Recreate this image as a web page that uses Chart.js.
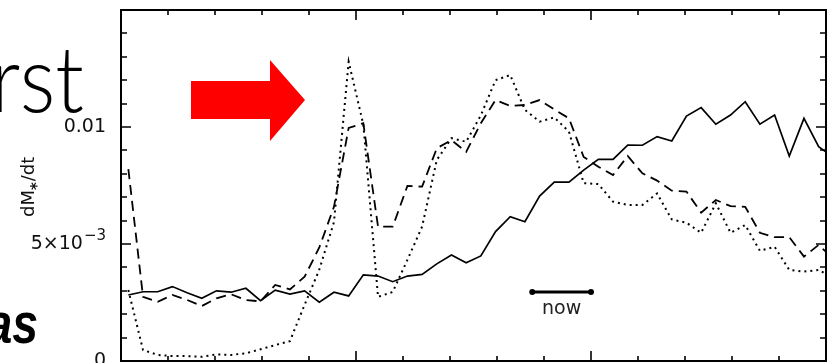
<!DOCTYPE html>
<html>
<head>
<meta charset="utf-8">
<script src="https://cdn.jsdelivr.net/npm/chart.js@4.4.0/dist/chart.umd.min.js"></script>
<style>
  html, body { margin: 0; padding: 0; background: #fff; }
  #wrap { width: 832px; height: 363px; }
</style>
</head>
<body>
<div id="wrap"><canvas id="sfrChart" width="832" height="363"></canvas></div>
<script>
// star formation rate per bin, in units of 1e-3
const sfrSolid = [
    2.82, 2.96, 2.96, 3.18, 2.92, 2.68, 3.00, 2.94, 3.11, 2.58,
    3.03, 2.86, 3.00, 2.51, 2.94, 2.78, 3.68, 3.63, 3.39, 3.63,
    3.70, 4.15, 4.53, 4.20, 4.49, 5.53, 6.17, 5.95, 7.05, 7.64,
    7.64, 8.16, 8.62, 8.62, 9.23, 9.22, 9.59, 9.40, 10.47, 10.83,
    10.12, 10.51, 11.08, 10.12, 10.51, 8.76, 10.37, 9.16, 8.70
];
const sfrDashed = [
    8.20, 2.74, 2.53, 2.82, 2.61, 2.35, 2.68, 2.85, 2.60, 2.55,
    3.25, 3.06, 3.60, 4.85, 6.59, 9.96, 10.16, 5.74, 5.74, 7.48,
    7.45, 9.09, 9.44, 8.94, 10.16, 11.15, 10.90, 10.94, 11.15, 10.75,
    10.37, 8.72, 8.30, 7.95, 8.76, 8.02, 7.71, 7.28, 7.24, 6.34,
    6.88, 6.62, 6.59, 5.48, 5.29, 5.29, 4.46, 4.96, 4.37
];
const sfrDotted = [
    3.03, 0.47, 0.26, 0.21, 0.21, 0.18, 0.28, 0.26, 0.33, 0.50,
    0.68, 0.85, 2.40, 3.90, 5.94, 12.79, 10.10, 2.74, 2.95, 4.32,
    5.74, 8.59, 9.52, 9.37, 10.50, 12.00, 12.22, 10.73, 10.23, 10.41,
    9.80, 7.60, 7.56, 6.81, 6.67, 6.67, 7.16, 6.05, 5.91, 5.48,
    6.74, 5.48, 5.81, 4.71, 4.88, 3.89, 3.82, 3.89, 3.55
];

const xMax = 15;
const binWidth = xMax / 48;
const yMax = 15;

const yLabelValues = [0, 5, 10];
const yLabelMain = ['0', '5×10', '0.01'];
const yLabelSup = ['', '−3', ''];

// "now" bar, in axis units
const nowFrom = 8.75;
const nowTo = 10;
const nowLevel = 2.95;

function toPoints(values) {
    return values.map((v, i) => ({ x: (i + 0.5) * binWidth, y: v }));
}

const decorations = {
    id: 'decorations',
    beforeDraw(chart) {
        const { ctx, width, height } = chart;
        ctx.save();
        ctx.fillStyle = '#fff';
        ctx.fillRect(0, 0, width, height);
        ctx.restore();
    },
    afterDatasetsDraw(chart) {
        const { ctx, chartArea: a, scales: { x, y } } = chart;
        ctx.save();

        // inward ticks on all four sides
        ctx.strokeStyle = '#000';
        ctx.lineWidth = 1.6;
        ctx.beginPath();
        for (let t = 0; t <= xMax; t++) {
            const px = Math.round(x.getPixelForValue(t));
            const len = t % 5 === 0 ? 10 : 5;
            ctx.moveTo(px, a.top); ctx.lineTo(px, a.top + len);
            ctx.moveTo(px, a.bottom); ctx.lineTo(px, a.bottom - len);
        }
        for (let t = 0; t <= yMax; t++) {
            const py = Math.round(y.getPixelForValue(t));
            const len = t % 5 === 0 ? 10 : 6;
            ctx.moveTo(a.left, py); ctx.lineTo(a.left + len, py);
            ctx.moveTo(a.right, py); ctx.lineTo(a.right - len, py);
        }
        ctx.stroke();

        ctx.lineWidth = 2;
        ctx.strokeRect(a.left, a.top, a.right - a.left, a.bottom - a.top);

        // y tick labels
        ctx.fillStyle = '#111';
        ctx.textBaseline = 'middle';
        yLabelValues.forEach((v, i) => {
            const py = y.getPixelForValue(v);
            ctx.font = '19px "DejaVu Sans"';
            const wMain = ctx.measureText(yLabelMain[i]).width;
            ctx.font = '15px "DejaVu Sans"';
            const wSup = yLabelSup[i] ? ctx.measureText(yLabelSup[i]).width + 1 : 0;
            const right = a.left - 15;
            ctx.textAlign = 'left';
            ctx.font = '19px "DejaVu Sans"';
            ctx.fillText(yLabelMain[i], right - wSup - wMain, py);
            if (wSup) {
                ctx.font = '15px "DejaVu Sans"';
                ctx.fillText(yLabelSup[i], right - wSup + 1, py - 8);
            }
        });

        // y axis title, rotated: dM*/dt
        ctx.save();
        ctx.translate(34, 217);
        ctx.rotate(-Math.PI / 2);
        ctx.textAlign = 'left';
        ctx.textBaseline = 'alphabetic';
        ctx.font = '18px "DejaVu Sans"';
        ctx.fillText('dM', 0, 0);
        let off = ctx.measureText('dM').width;
        ctx.font = 'bold 15px "DejaVu Sans"';
        ctx.fillText('*', off, 8);
        off += ctx.measureText('*').width + 1;
        ctx.font = '18px "DejaVu Sans"';
        ctx.fillText('/dt', off, 0);
        ctx.restore();

        // "now" scale bar
        const nx0 = x.getPixelForValue(nowFrom);
        const nx1 = x.getPixelForValue(nowTo);
        const ny = y.getPixelForValue(nowLevel);
        ctx.lineWidth = 3;
        ctx.beginPath();
        ctx.moveTo(nx0, ny); ctx.lineTo(nx1, ny);
        ctx.stroke();
        ctx.fillStyle = '#000';
        [nx0, nx1].forEach(px => {
            ctx.beginPath();
            ctx.arc(px, ny, 3, 0, Math.PI * 2);
            ctx.fill();
        });
        ctx.fillStyle = '#222';
        ctx.font = '19px "DejaVu Sans"';
        ctx.textAlign = 'center';
        ctx.textBaseline = 'middle';
        ctx.fillText('now', (nx0 + nx1) / 2, ny + 17);

        // red arrow
        ctx.fillStyle = '#ff0000';
        ctx.beginPath();
        ctx.moveTo(191, 81);
        ctx.lineTo(270, 81);
        ctx.lineTo(270, 60);
        ctx.lineTo(305, 100);
        ctx.lineTo(270, 141);
        ctx.lineTo(270, 119);
        ctx.lineTo(191, 119);
        ctx.closePath();
        ctx.fill();

        // slide text behind the plot
        ctx.fillStyle = '#000';
        ctx.textAlign = 'right';
        ctx.textBaseline = 'alphabetic';
        ctx.save();
        ctx.translate(84, 112);
        ctx.scale(0.9, 1);
        ctx.font = '300 93px Lato';
        ctx.fillText('rst', 0, 0);
        ctx.restore();

        ctx.save();
        ctx.translate(38, 343);
        ctx.scale(0.8, 1);
        ctx.font = 'bold italic 58px "Liberation Sans"';
        ctx.fillText('as', 0, 0);
        ctx.restore();

        ctx.restore();
    }
};

const lineBase = { pointRadius: 0, tension: 0, borderColor: '#000', fill: false, clip: 0 };

new Chart(document.getElementById('sfrChart').getContext('2d'), {
    type: 'line',
    data: {
        datasets: [
            { ...lineBase, data: toPoints(sfrSolid), borderWidth: 1.7 },
            { ...lineBase, data: toPoints(sfrDashed), borderWidth: 1.8, borderDash: [10, 6] },
            { ...lineBase, data: toPoints(sfrDotted), borderWidth: 2, borderDash: [2, 4] }
        ]
    },
    options: {
        responsive: false,
        animation: false,
        devicePixelRatio: 1,
        layout: { padding: { left: 121, top: 10, right: 6, bottom: 2 } },
        plugins: { legend: { display: false }, tooltip: { enabled: false } },
        scales: {
            x: { type: 'linear', min: 0, max: xMax, display: false },
            y: { type: 'linear', min: 0, max: yMax, display: false }
        }
    },
    plugins: [decorations]
});
</script>
</body>
</html>
